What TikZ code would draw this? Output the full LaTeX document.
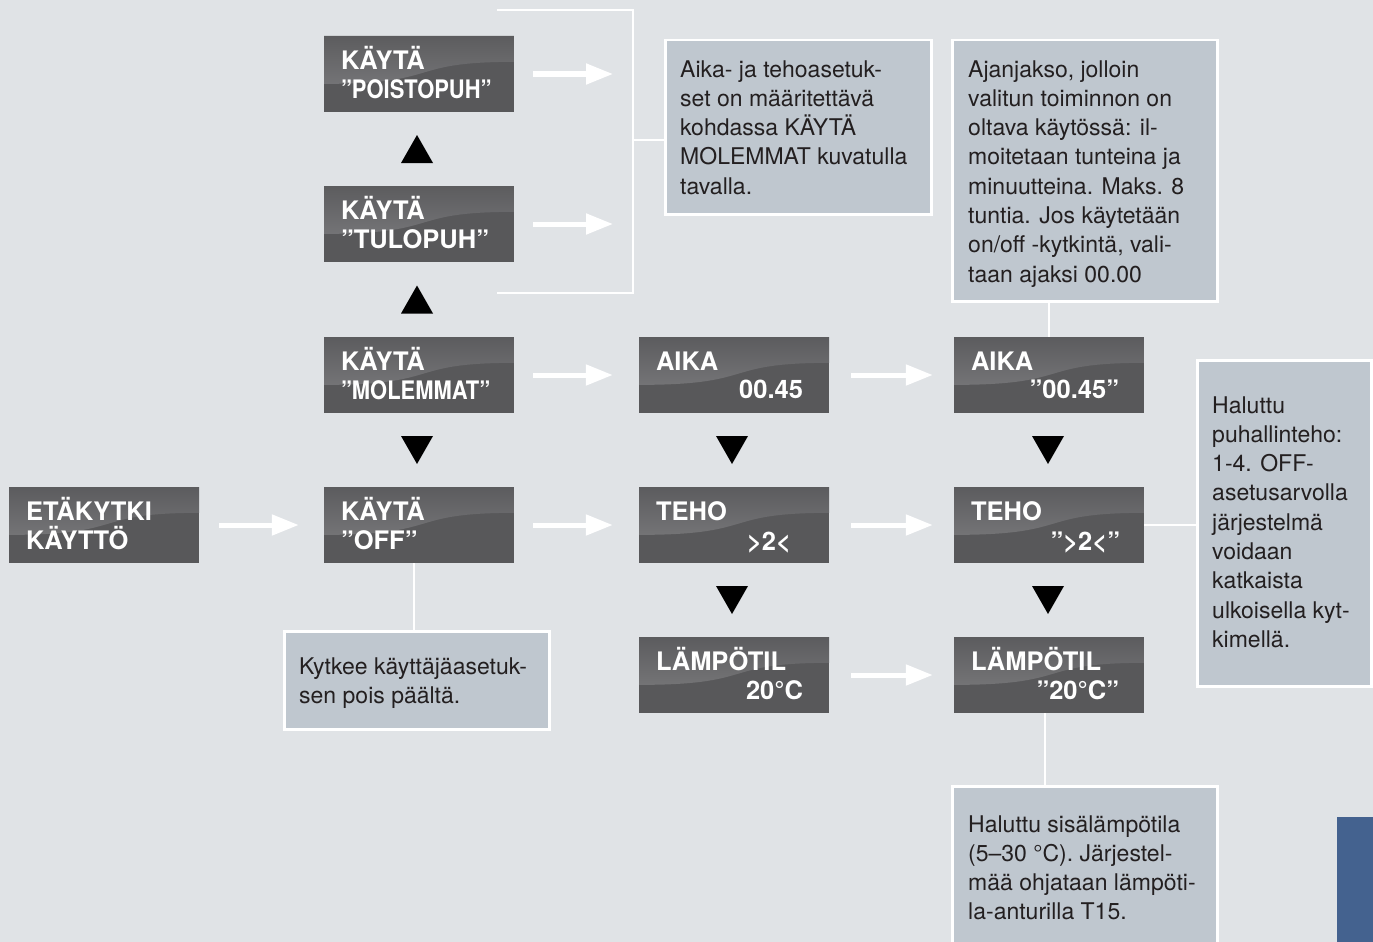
\documentclass[tikz,border=0pt]{standalone}
\usepackage{fontspec}
\setmainfont{TeX Gyre Heros}
\usetikzlibrary{arrows.meta,calc}

\definecolor{bg}{HTML}{E0E3E6}
\definecolor{panel}{HTML}{BFC7CF}
\definecolor{ink}{HTML}{231F20}
\definecolor{dispdark}{HTML}{58585A}
\definecolor{disptop}{HTML}{5C5C5E}
\definecolor{displight}{HTML}{828284}
\definecolor{tab}{HTML}{44628F}

\tikzset{
  display/.style={minimum width=190pt, minimum height=76pt, inner sep=0pt, fill=dispdark,
    path picture={
      \shade[top color=disptop, bottom color=displight]
        (path picture bounding box.north west)
        -- ($(path picture bounding box.north west)!0.63!(path picture bounding box.south west)$)
        .. controls +(120pt,0pt) and +(-110pt,0pt) ..
        ($(path picture bounding box.north east)!0.34!(path picture bounding box.south east)$)
        -- (path picture bounding box.north east) -- cycle;}},
  dtext/.style={font=\fontsize{25.5}{29}\selectfont\bfseries, text=white, inner sep=0pt},
  note/.style={draw=white, line width=2.5pt, fill=panel, inner sep=0pt, anchor=north west},
  % multi-line notes are placed by the baseline of their last line
  ntext/.style={font=\fontsize{23}{29.3}\selectfont, text=ink, inner sep=0pt, align=left, anchor=base west},
  flow/.style={draw=white, line width=5pt, -{Triangle[length=27pt,width=20pt]}},
  link/.style={draw=white, line width=2pt},
  marker/.style={fill=black}
}

\begin{document}
\begin{tikzpicture}[x=1pt, y=-1pt]
  \useasboundingbox (0,0) rectangle (1373,942);
  \clip (0,0) rectangle (1373,942);
  \fill[bg] (0,0) rectangle (1373,942);

  % --- callout panels ---
  \node[note, minimum width=266pt, minimum height=174pt] (n1) at (664,39) {};
  \node[note, minimum width=265pt, minimum height=261pt] (n2) at (951,39) {};
  \node[note, minimum width=174pt, minimum height=326pt] (n3) at (1196,359) {};
  \node[note, minimum width=265pt, minimum height=98pt] (n4) at (283,630) {};
  \node[note, minimum width=265pt, minimum height=190pt] (n5) at (951,785) {};

  \node[ntext] (t1) at (680,194.2) {Aika- ja tehoasetuk-\\set on määritettävä\\kohdassa KÄYTÄ\\MOLEMMAT kuvatulla\\tavalla.};
  \node[ntext] (t2) at (968,282.1) {Ajanjakso, jolloin\\valitun toiminnon on\\oltava käytössä: il-\\moitetaan tunteina ja\\minuutteina. Maks. 8\\tuntia. Jos käytetään\\on/off -kytkintä, vali-\\taan ajaksi 00.00};
  \node[ntext] (t3) at (1212,647.4) {Haluttu\\puhallinteho:\\1-4. OFF-\\asetusarvolla\\järjestelmä\\voidaan\\katkaista\\ulkoisella kyt-\\kimellä.};
  \node[ntext] (t4) at (299,703.3) {Kytkee käyttäjäasetuk-\\sen pois päältä.};
  \node[ntext] (t5) at (968,919.9) {Haluttu sisälämpötila\\(5–30 °C). Järjestel-\\mää ohjataan lämpöti-\\la-anturilla T15.};

  % side tab
  \fill[tab] (1337,817) rectangle (1373,942);

  % --- display boxes ---
  \node[display] (poisto) at (419,74) {};
  \node[display] (tulo)   at (419,224) {};
  \node[display] (molem)  at (419,375) {};
  \node[display] (off)    at (419,525) {};
  \node[display] (eta)    at (104,525) {};
  \node[display] (aika1)  at (734,375) {};
  \node[display] (teho1)  at (734,525) {};
  \node[display] (lamp1)  at (734,675) {};
  \node[display] (aika2)  at (1049,375) {};
  \node[display] (teho2)  at (1049,525) {};
  \node[display] (lamp2)  at (1049,675) {};

  \node[dtext, anchor=base west] at ($(poisto.north west)+(17,33.5)$) {KÄYTÄ};
  \node[dtext, anchor=base west] at ($(poisto.north west)+(17,63)$) {\scalebox{0.86}[1]{”POISTOPUH”}};
  \node[dtext, anchor=base west] at ($(tulo.north west)+(17,33.5)$) {KÄYTÄ};
  \node[dtext, anchor=base west] at ($(tulo.north west)+(17,63)$) {”TULOPUH”};
  \node[dtext, anchor=base west] at ($(molem.north west)+(17,33.5)$) {KÄYTÄ};
  \node[dtext, anchor=base west] at ($(molem.north west)+(17,63)$) {\scalebox{0.86}[1]{”MOLEMMAT”}};
  \node[dtext, anchor=base west] at ($(off.north west)+(17,33.5)$) {KÄYTÄ};
  \node[dtext, anchor=base west] at ($(off.north west)+(17,63)$) {”OFF”};
  \node[dtext, anchor=base west] at ($(eta.north west)+(17,33.5)$) {ETÄKYTKI};
  \node[dtext, anchor=base west] at ($(eta.north west)+(17,63)$) {KÄYTTÖ};

  \node[dtext, anchor=base west] at ($(aika1.north west)+(17,33.5)$) {AIKA};
  \node[dtext, anchor=base east] at ($(aika1.north east)+(-26,62)$) {00.45};
  \node[dtext, anchor=base west] at ($(teho1.north west)+(17,33.5)$) {TEHO};
  \node[dtext, anchor=base east] at ($(teho1.north east)+(-38,64)$) {>2<};
  \node[dtext, anchor=base west] at ($(lamp1.north west)+(17,33.5)$) {LÄMPÖTIL};
  \node[dtext, anchor=base east] at ($(lamp1.north east)+(-26,63)$) {20°C};

  \node[dtext, anchor=base west] at ($(aika2.north west)+(17,33.5)$) {AIKA};
  \node[dtext, anchor=base east] at ($(aika2.north east)+(-25,62)$) {”00.45”};
  \node[dtext, anchor=base west] at ($(teho2.north west)+(17,33.5)$) {TEHO};
  \node[dtext, anchor=base east] at ($(teho2.north east)+(-24,64)$) {”>2<”};
  \node[dtext, anchor=base west] at ($(lamp2.north west)+(17,33.5)$) {LÄMPÖTIL};
  \node[dtext, anchor=base east] at ($(lamp2.north east)+(-25,63)$) {”20°C”};

  % --- bracket joining the two fan settings to their note ---
  \coordinate (brtop) at (633,10);
  \coordinate (brbot) at (633,293);
  \coordinate (brmid) at (633,140);
  \draw[link] (497,10) -- (brtop) -- (brbot) -- (497,293);
  \draw[link] (brmid) -- (brmid -| n1.west);

  % --- note connectors ---
  \coordinate (offfoot) at ($(off.south)+(-5,0)$);
  \coordinate (lampfoot) at ($(lamp2.south)+(-4,0)$);
  \draw[link] (aika2.north) -- (aika2.north |- n2.south);
  \draw[link] (teho2.east) -- (teho2.east -| n3.west);
  \draw[link] (offfoot) -- (offfoot |- n4.north);
  \draw[link] (lampfoot) -- (lampfoot |- n5.north);

  % --- white flow arrows ---
  \coordinate (pend) at (613,74);
  \coordinate (tend) at (613,224);
  \draw[flow, shorten <=19pt] (poisto.east) -- (pend);
  \draw[flow, shorten <=19pt] (tulo.east) -- (tend);
  \draw[flow, shorten <=19pt, shorten >=26pt] (molem) -- (aika1);
  \draw[flow, shorten <=19pt, shorten >=26pt] (off) -- (teho1);
  \draw[flow, shorten <=20pt, shorten >=25pt] (eta) -- (off);
  \draw[flow, shorten <=22pt, shorten >=21pt] (aika1) -- (aika2);
  \draw[flow, shorten <=22pt, shorten >=21pt] (teho1) -- (teho2);
  \draw[flow, shorten <=22pt, shorten >=21pt] (lamp1) -- (lamp2);

  % --- black step markers ---
  \coordinate (m1) at ($(poisto.south)!0.5!(tulo.north)+(-2,0)$);
  \coordinate (m2) at ($(tulo.south)!0.5!(molem.north)+(-2,0)$);
  \coordinate (m3) at ($(molem.south)!0.5!(off.north)+(-2,0)$);
  \coordinate (m4) at ($(aika1.south)!0.5!(teho1.north)+(-2,0)$);
  \coordinate (m5) at ($(teho1.south)!0.5!(lamp1.north)+(-2,0)$);
  \coordinate (m6) at ($(aika2.south)!0.5!(teho2.north)+(-1,0)$);
  \coordinate (m7) at ($(teho2.south)!0.5!(lamp2.north)+(-1,0)$);
  \foreach \m in {m1,m2} {
    \fill[marker] ($(\m)+(-16,14)$) -- ++(32,0) -- ++(-16,-28) -- cycle;
  }
  \foreach \m in {m3,m4,m5,m6,m7} {
    \fill[marker] ($(\m)+(-16,-14)$) -- ++(32,0) -- ++(-16,28) -- cycle;
  }
\end{tikzpicture}
\end{document}
